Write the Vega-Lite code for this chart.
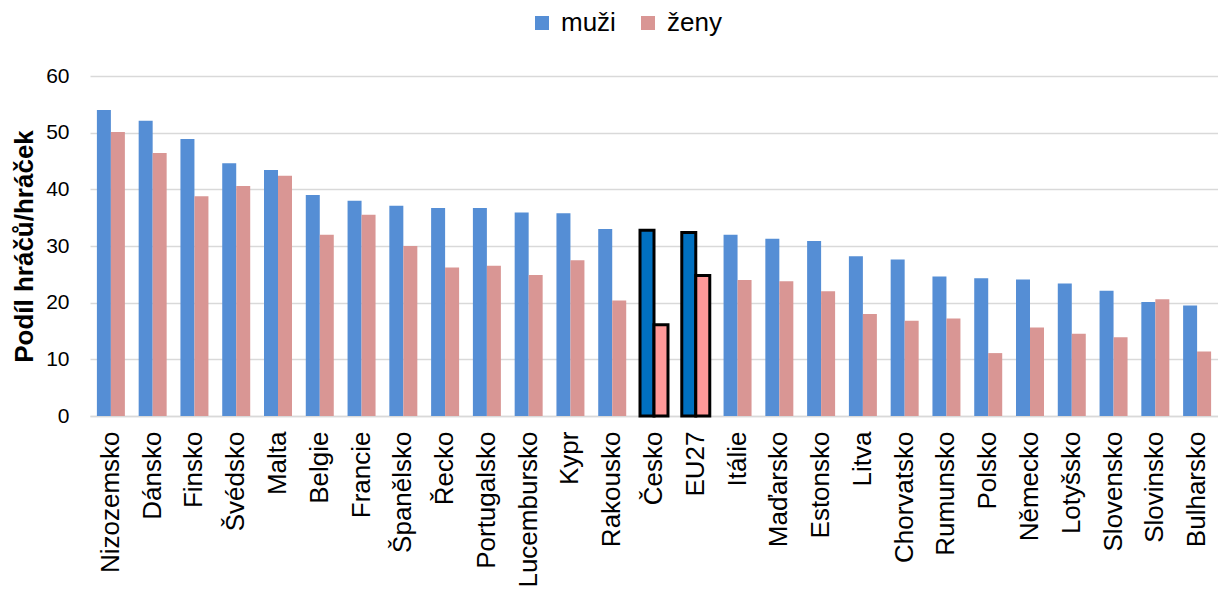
{
  "$schema": "https://vega.github.io/schema/vega-lite/v6.json",
  "autosize": "none",
  "width": 1128,
  "height": 340,
  "padding": {"left": 90, "top": 76, "right": 0, "bottom": 174},
  "background": "white",
  "data": {"values": [
    {"zeme": "Nizozemsko", "pohlavi": "muži", "podil": 54.0},
    {"zeme": "Nizozemsko", "pohlavi": "ženy", "podil": 50.1},
    {"zeme": "Dánsko", "pohlavi": "muži", "podil": 52.1},
    {"zeme": "Dánsko", "pohlavi": "ženy", "podil": 46.4},
    {"zeme": "Finsko", "pohlavi": "muži", "podil": 48.9},
    {"zeme": "Finsko", "pohlavi": "ženy", "podil": 38.8},
    {"zeme": "Švédsko", "pohlavi": "muži", "podil": 44.6},
    {"zeme": "Švédsko", "pohlavi": "ženy", "podil": 40.6},
    {"zeme": "Malta", "pohlavi": "muži", "podil": 43.4},
    {"zeme": "Malta", "pohlavi": "ženy", "podil": 42.4},
    {"zeme": "Belgie", "pohlavi": "muži", "podil": 39.0},
    {"zeme": "Belgie", "pohlavi": "ženy", "podil": 32.0},
    {"zeme": "Francie", "pohlavi": "muži", "podil": 38.0},
    {"zeme": "Francie", "pohlavi": "ženy", "podil": 35.5},
    {"zeme": "Španělsko", "pohlavi": "muži", "podil": 37.1},
    {"zeme": "Španělsko", "pohlavi": "ženy", "podil": 30.0},
    {"zeme": "Řecko", "pohlavi": "muži", "podil": 36.7},
    {"zeme": "Řecko", "pohlavi": "ženy", "podil": 26.2},
    {"zeme": "Portugalsko", "pohlavi": "muži", "podil": 36.7},
    {"zeme": "Portugalsko", "pohlavi": "ženy", "podil": 26.5},
    {"zeme": "Lucembursko", "pohlavi": "muži", "podil": 35.9},
    {"zeme": "Lucembursko", "pohlavi": "ženy", "podil": 24.9},
    {"zeme": "Kypr", "pohlavi": "muži", "podil": 35.8},
    {"zeme": "Kypr", "pohlavi": "ženy", "podil": 27.5},
    {"zeme": "Rakousko", "pohlavi": "muži", "podil": 33.0},
    {"zeme": "Rakousko", "pohlavi": "ženy", "podil": 20.4},
    {"zeme": "Česko", "pohlavi": "muži", "podil": 32.8},
    {"zeme": "Česko", "pohlavi": "ženy", "podil": 16.1},
    {"zeme": "EU27", "pohlavi": "muži", "podil": 32.4},
    {"zeme": "EU27", "pohlavi": "ženy", "podil": 24.8},
    {"zeme": "Itálie", "pohlavi": "muži", "podil": 32.0},
    {"zeme": "Itálie", "pohlavi": "ženy", "podil": 24.0},
    {"zeme": "Maďarsko", "pohlavi": "muži", "podil": 31.3},
    {"zeme": "Maďarsko", "pohlavi": "ženy", "podil": 23.8},
    {"zeme": "Estonsko", "pohlavi": "muži", "podil": 30.9},
    {"zeme": "Estonsko", "pohlavi": "ženy", "podil": 22.0},
    {"zeme": "Litva", "pohlavi": "muži", "podil": 28.2},
    {"zeme": "Litva", "pohlavi": "ženy", "podil": 18.0},
    {"zeme": "Chorvatsko", "pohlavi": "muži", "podil": 27.6},
    {"zeme": "Chorvatsko", "pohlavi": "ženy", "podil": 16.8},
    {"zeme": "Rumunsko", "pohlavi": "muži", "podil": 24.6},
    {"zeme": "Rumunsko", "pohlavi": "ženy", "podil": 17.2},
    {"zeme": "Polsko", "pohlavi": "muži", "podil": 24.3},
    {"zeme": "Polsko", "pohlavi": "ženy", "podil": 11.1},
    {"zeme": "Německo", "pohlavi": "muži", "podil": 24.1},
    {"zeme": "Německo", "pohlavi": "ženy", "podil": 15.6},
    {"zeme": "Lotyšsko", "pohlavi": "muži", "podil": 23.4},
    {"zeme": "Lotyšsko", "pohlavi": "ženy", "podil": 14.5},
    {"zeme": "Slovensko", "pohlavi": "muži", "podil": 22.1},
    {"zeme": "Slovensko", "pohlavi": "ženy", "podil": 13.9},
    {"zeme": "Slovinsko", "pohlavi": "muži", "podil": 20.1},
    {"zeme": "Slovinsko", "pohlavi": "ženy", "podil": 20.6},
    {"zeme": "Bulharsko", "pohlavi": "muži", "podil": 19.5},
    {"zeme": "Bulharsko", "pohlavi": "ženy", "podil": 11.4}
  ]},
  "encoding": {
    "x": {
      "field": "zeme", "type": "nominal", "sort": null,
      "scale": {"paddingInner": 0.33, "paddingOuter": 0.165},
      "axis": {
        "title": null, "labelAngle": -90, "labelAlign": "right", "labelBaseline": "middle",
        "labelFont": "Liberation Sans", "labelFontSize": 26, "labelColor": "black",
        "labelPadding": 15, "ticks": false, "domain": true, "domainColor": "#D9D9D9", "domainWidth": 1.5,
        "labelOverlap": false, "labelLimit": 200
      }
    },
    "xOffset": {"field": "pohlavi", "type": "nominal", "sort": ["muži", "ženy"]},
    "y": {
      "field": "podil", "type": "quantitative",
      "scale": {"domain": [0, 60], "nice": false},
      "axis": {
        "title": "Podíl hráčů/hráček", "titleFont": "Liberation Sans", "titleFontSize": 26,
        "titleFontWeight": "bold", "titleColor": "black", "titlePadding": 8,
        "values": [0, 10, 20, 30, 40, 50, 60],
        "labelFont": "Liberation Sans", "labelFontSize": 21, "labelColor": "black", "labelPadding": 21,
        "ticks": false, "domain": false, "grid": true, "gridColor": "#D9D9D9", "gridWidth": 1.5
      }
    }
  },
  "layer": [
    {
      "mark": {"type": "bar"},
      "encoding": {
        "color": {
          "field": "pohlavi", "type": "nominal",
          "scale": {"domain": ["muži", "ženy"], "range": ["#558ED5", "#D99694"]},
          "legend": {
            "title": null, "orient": "none", "direction": "horizontal",
            "legendX": 439, "legendY": -66,
            "labelFont": "Liberation Sans", "labelFontSize": 26, "labelColor": "black",
            "symbolType": "square", "symbolSize": 196, "symbolStrokeWidth": 0,
            "labelOffset": 6, "columnPadding": 19
          }
        }
      }
    },
    {
      "transform": [{"filter": "datum.zeme === 'Česko' || datum.zeme === 'EU27'"}],
      "mark": {"type": "bar", "stroke": "black", "strokeWidth": 3},
      "encoding": {
        "fill": {
          "field": "pohlavi", "type": "nominal",
          "scale": {"domain": ["muži", "ženy"], "range": ["#0070C0", "#FF9999"]},
          "legend": null
        }
      }
    }
  ],
  "config": {"view": {"stroke": null}}
}
